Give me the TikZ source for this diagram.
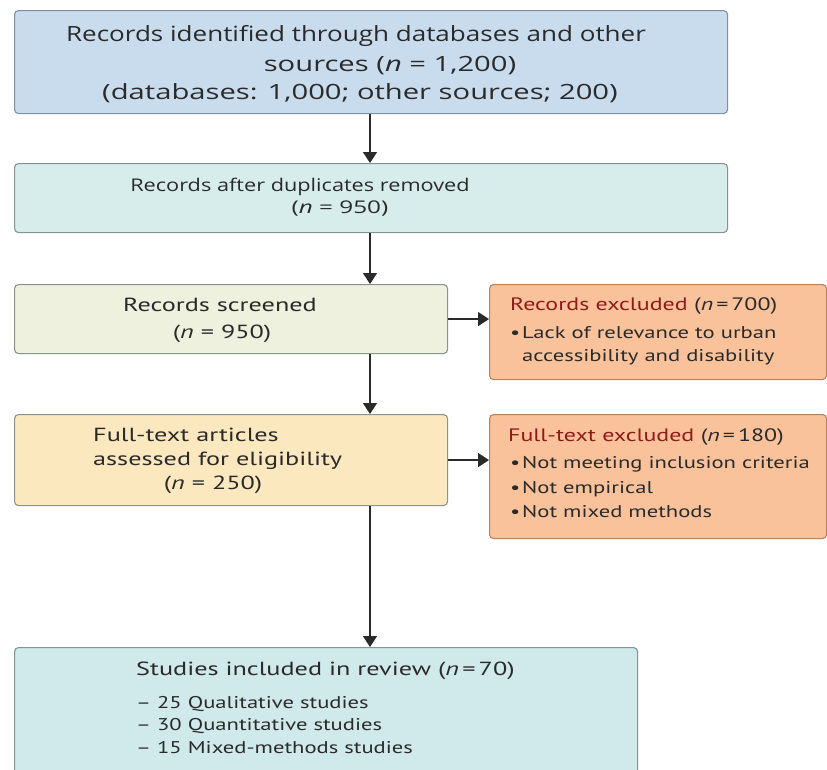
\documentclass[tikz,border=0pt]{standalone}
\usepackage{fontspec}
\setmainfont{PT Sans}[FakeStretch=1.38]
\newfontfamily\notefont{PT Sans}[FakeStretch=1.33]
\newfontfamily\topfont{Open Sans}[FakeStretch=1.24]
\newfontfamily\topwide{Open Sans}[FakeStretch=1.39]
\usetikzlibrary{arrows.meta,positioning}

\definecolor{identfill}{HTML}{C9DCEE}
\definecolor{identline}{HTML}{7F8FA0}
\definecolor{dupfill}{HTML}{D7EDEB}
\definecolor{scrfill}{HTML}{EEF1DE}
\definecolor{fullfill}{HTML}{FCE8BF}
\definecolor{exclfill}{HTML}{F9C29B}
\definecolor{exclline}{HTML}{B9805E}
\definecolor{inclfill}{HTML}{D0E9EA}
\definecolor{boxline}{HTML}{8A9290}
\definecolor{exclred}{HTML}{8E1B1B}
\definecolor{ink}{HTML}{2A2A2A}

\tikzset{
	stage/.style={draw=boxline, line width=1.1pt, rounded corners=4pt,
		anchor=north west, inner sep=0pt},
	flow/.style={draw=ink, line width=1.5pt, -{Triangle[width=14pt,length=11pt]}},
	lbl/.style={text=ink, inner sep=0pt, anchor=base west,
		font=\fontsize{19}{23}\selectfont},
	note/.style={lbl, font=\notefont\fontsize{17}{21}\selectfont},
	toplbl/.style={text=ink, inner sep=0pt, anchor=base,
		font=\topfont\fontsize{21}{25}\selectfont},
}
\newcommand{\dotitem}{\makebox[12pt][l]{•}}

\begin{document}
\begin{tikzpicture}[x=1pt,y=-1pt]
	\fill[white] (0,0) rectangle (827,769);
	\useasboundingbox (0,0) rectangle (827,769);
	\coordinate (spine) at (370,0);

	% boxes
	\node[stage, fill=identfill, draw=identline, minimum width=713pt, minimum height=103pt] (ident) at (14,10) {};
	\node[stage, fill=dupfill, minimum width=713pt, minimum height=69pt] (dedup) at (14,163) {};
	\node[stage, fill=scrfill, minimum width=433pt, minimum height=69pt] (screen) at (14,284) {};
	\node[stage, fill=exclfill, draw=exclline, minimum width=337pt, minimum height=95pt] (recexcl) at (489,284) {};
	\node[stage, fill=fullfill, minimum width=433pt, minimum height=91pt] (full) at (14,414) {};
	\node[stage, fill=exclfill, draw=exclline, minimum width=337pt, minimum height=124pt] (fullexcl) at (489,414) {};
	\node[stage, fill=inclfill, minimum width=623pt, minimum height=135pt] (incl) at (14,647) {};

	% texts
	\node[toplbl] (identa) at (356,41) {Records identified through databases and other};
	\node[toplbl, font=\topwide\fontsize{21}{25}\selectfont] (identb) at (390,71) {sources (\textit{n} = 1,200)};
	\node[toplbl, font=\topwide\fontsize{21}{25}\selectfont] (identc) at (360,99) {(databases: 1,000; other sources; 200)};
	\node[toplbl, font=\topfont\fontsize{17.5}{21}\selectfont] (dedupa) at (300,191) {Records after duplicates removed};
	\node[toplbl, font=\topwide\fontsize{17.5}{21}\selectfont] (dedupb) at (340,213) {(\textit{n} = 950)};

	\node[lbl, anchor=base] (screena) at (220,311) {Records screened};
	\node[lbl, anchor=base] (screenb) at (222,338) {(\textit{n} = 950)};
	\node[lbl] (fulla) at (93,441) {Full-text articles};
	\node[lbl] (fullb) at (93,465) {assessed for eligibility};
	\node[lbl, anchor=base] (fullc) at (213,489) {(\textit{n} = 250)};

	\node[note, font=\notefont\fontsize{18}{21}\selectfont] (recexcla) at (510,310) {\textcolor{exclred}{Records excluded} (\textit{n}\,=\,700)};
	\node[note] (recexclb) at (510,338) {\dotitem Lack of relevance to urban};
	\node[note] (recexclc) at (522,361) {accessibility and disability};

	\node[note, font=\notefont\fontsize{18}{21}\selectfont] (fullexcla) at (508,441) {\textcolor{exclred}{Full-text excluded} (\textit{n}\,=\,180)};
	\foreach \t/\y in {Not meeting inclusion criteria/468, Not empirical/493, Not mixed methods/517}
		\node[note] at (510,\y) {\dotitem\t};

	\node[lbl] (incla) at (136,675) {Studies included in review (\textit{n}\,=\,70)};
	\foreach \t/\y in {25 Qualitative studies/708, 30 Quantitative studies/730, 15 Mixed-methods studies/753}
		\node[note] at (136,\y) {– \t};

	% connectors
	\draw[flow] (ident.south -| spine) -- (dedup.north -| spine);
	\draw[flow] (dedup.south -| spine) -- (screen.north -| spine);
	\draw[flow] (screen.south -| spine) -- (full.north -| spine);
	\draw[flow] (full.south -| spine) -- (incl.north -| spine);
	\draw[flow] (screen.east) -- (recexcl.west |- screen.east);
	\draw[flow] (full.east) -- (fullexcl.west |- full.east);
\end{tikzpicture}
\end{document}
